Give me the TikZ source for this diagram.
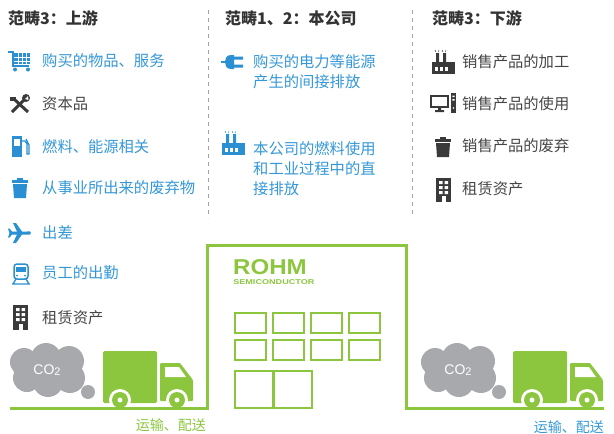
\documentclass[tikz,border=0pt]{standalone}
\usepackage{fontspec}
\setmainfont{Noto Sans CJK SC}
\newfontfamily\arialfont{Liberation Sans}
\usepackage{tikz}
\usetikzlibrary{positioning}

\definecolor{scopeblue}{HTML}{3497D7}
\definecolor{iconblue}{HTML}{2A8FD3}
\definecolor{textgray}{HTML}{454545}
\definecolor{headgray}{HTML}{333333}
\definecolor{icondark}{HTML}{3A3A3A}
\definecolor{rohmgreen}{HTML}{8CC63F}
\definecolor{cloudgray}{HTML}{A7A9AC}
\definecolor{dashgray}{HTML}{A0A0A0}

\tikzset{
  itemtext/.style={anchor=west, inner sep=0pt, font=\fontsize{15.3}{20}\selectfont},
  bluetext/.style={itemtext, text=scopeblue},
  graytext/.style={itemtext, text=textgray},
  multitext/.style={bluetext, align=left},
  headtext/.style={anchor=west, inner sep=0pt, font=\bfseries\fontsize{16}{18}\selectfont, text=headgray},
  divider/.style={dashgray, line width=0.8pt, dash pattern=on 4pt off 4pt},
  wall/.style={rohmgreen, line width=3pt},
  window/.style={rohmgreen, line width=2.6pt},
}

\begin{document}
\begin{tikzpicture}[x=1pt, y=-1pt]
  \useasboundingbox (0,0) rectangle (614,434);

  % column dividers
  \draw[divider] (208,10) -- (208,218);
  \draw[divider] (412,10) -- (412,215);

  % headers
  \node[headtext] (upHead) at (8,18) {范畴3：上游};
  \node[headtext] (ownHead) at (225,18) {范畴1、2：本公司};
  \node[headtext] (downHead) at (432,18) {范畴3：下游};

  % upstream list
  \node[bluetext] (upGoods) at (42,61) {购买的物品、服务};
  \node[graytext] (upCapital) at (42,104) {资本品};
  \node[bluetext] (upFuel) at (42,147) {燃料、能源相关};
  \node[bluetext] (upWaste) at (42,188) {从事业所出来的废弃物};
  \node[bluetext] (upTravel) at (42,233) {出差};
  \node[bluetext] (upCommute) at (42,273) {员工的出勤};
  \node[graytext] (upLease) at (42,318) {租赁资产};

  % own company
  \node[multitext] (ownPower) at (253,72) {购买的电力等能源\\产生的间接排放};
  \node[multitext] (ownFuel) at (253,169) {本公司的燃料使用\\和工业过程中的直\\接排放};

  % downstream list
  \node[graytext] (downProc) at (462,62) {销售产品的加工};
  \node[graytext] (downUse) at (462,104) {销售产品的使用};
  \node[graytext] (downWaste) at (462,146) {销售产品的废弃};
  \node[graytext] (downLease) at (462,189) {租赁资产};

  % cart
  \draw[iconblue, line width=1.6pt] (8,52) -- (13,52) -- (13,66) -- (29,66);
  \fill[iconblue] (14,53) rectangle (30,64);
  \foreach \gx in {18,22,26}
    \draw[white, line width=0.7pt] (\gx,53) -- (\gx,64);
  \foreach \gy in {57,61}
    \draw[white, line width=0.7pt] (14,\gy) -- (30,\gy);
  \fill[iconblue] (15,69.5) circle (2) (28,69.5) circle (2);

  % tools
  \draw[icondark, line width=3pt] (12,112) -- (26,98);
  \draw[icondark, line width=3pt] (14,99) -- (28,112);
  \fill[icondark] (26,98) circle (4);
  \fill[white] (28,96) -- (25,99) -- (28.5,100) -- cycle;
  \fill[icondark] (10,97) rectangle (16,101);

  % fuel pump
  \fill[iconblue] (12,136) rectangle (22,157);
  \fill[white] (14,139) rectangle (20,146);
  \draw[iconblue, line width=1.2pt] (22,141) -- (25,141) -- (27,144) -- (27,154)
    -- (29,154) -- (29,145) -- (26,139);

  % waste bin
  \fill[iconblue] (12,180) rectangle (28,182.5);
  \fill[iconblue] (17,178) rectangle (23,180);
  \fill[iconblue] (13,184) -- (27,184) -- (26,198) -- (14,198) -- cycle;

  % plane
  \fill[iconblue] (31,233) .. controls (30,231) .. (27,231.5) -- (22,231.5)
    -- (16,223) -- (13,223) -- (17,231.5) -- (12,231.5) -- (9.5,228.5) -- (8,228.5)
    -- (9.5,233) -- (8,237.5) -- (9.5,237.5) -- (12,234.5) -- (17,234.5)
    -- (13,243) -- (16,243) -- (22,234.5) -- (27,234.5) .. controls (30,235) .. (31,233) -- cycle;

  % train
  \draw[iconblue, line width=1.5pt, rounded corners=3pt] (14,264) rectangle (28,279);
  \fill[iconblue] (16,267) rectangle (26,272);
  \fill[iconblue] (17,275.5) circle (1) (25,275.5) circle (1);
  \draw[iconblue, line width=1.3pt] (16,279) -- (13,284) (26,279) -- (29,284) (12,284) -- (30,284);

  % leased building
  \fill[icondark] (13,305) rectangle (28,330);
  \foreach \wy in {308,313,318}
    \fill[white] (16,\wy) rectangle (19.5,\wy+3) (21.5,\wy+3) rectangle (25,\wy);
  \fill[white] (18.5,324) rectangle (22.5,330);

  % plug
  \draw[iconblue, line width=2pt] (221,62) -- (227,62);
  \fill[iconblue] (234,55) -- (234,69) -- (231,69) .. controls (226,69) and (225,65) .. (225,62)
    .. controls (225,59) and (226,55) .. (231,55) -- cycle;
  \fill[iconblue] (234,56.5) rectangle (243,59.5) (234,64.5) rectangle (243,67.5);

  % factory
  \fill[iconblue] (226,134) rectangle (229,144) (233,134) rectangle (236,144);
  \draw[iconblue, line width=0.5pt] (225,131) -- (226,133) (229,131) -- (228.5,133)
    (232,131) -- (233,133) (236,131) -- (235.5,133);
  \fill[iconblue] (222,155) -- (222,143) -- (245,143) -- (245,155) -- cycle;
  \foreach \fx in {225,230,235}
    \fill[white] (\fx,148) rectangle (\fx+3,152);

  % downstream factory
  \fill[icondark] (436,53) rectangle (439,63) (443,53) rectangle (446,63);
  \draw[icondark, line width=0.5pt] (435,50) -- (436,52) (439,50) -- (438.5,52)
    (442,50) -- (443,52) (446,50) -- (445.5,52);
  \fill[icondark] (432,74) -- (432,62) -- (455,62) -- (455,74) -- cycle;
  \foreach \fx in {435,440,445}
    \fill[white] (\fx,67) rectangle (\fx+3,71);

  % computer
  \draw[icondark, line width=1.5pt] (431,96) rectangle (448,107);
  \fill[icondark] (438,107) rectangle (441,110) (435,110) rectangle (444,112);
  \fill[icondark] (451,93) rectangle (456,113);
  \fill[white] (452.3,95.5) rectangle (454.7,97) (452.3,99) rectangle (454.7,100.5);
  \fill[white] (453.5,108) circle (0.8);

  % downstream waste bin
  \fill[icondark] (435,139) rectangle (451,141.5);
  \fill[icondark] (440,137) rectangle (446,139);
  \fill[icondark] (436,143) -- (450,143) -- (449,157) -- (437,157) -- cycle;

  % downstream leased building
  \fill[icondark] (436,178) rectangle (451,202);
  \foreach \wy in {181,186,191}
    \fill[white] (439,\wy) rectangle (442.5,\wy+3) (444.5,\wy+3) rectangle (448,\wy);
  \fill[white] (441.5,196) rectangle (445.5,202);

  % left cloud and truck
  \fill[cloudgray] (24,362) circle (14) (46,358) circle (15) (69,361) circle (15)
    (70,378) circle (15) (48,382) circle (15) (27,378) circle (14) (47,370) circle (18);
  \fill[cloudgray] (88,392) circle (7);
  \node[text=white, font=\arialfont\fontsize{14}{14}\selectfont, inner sep=0pt] (coLeft) at (47,370)
    {CO\raisebox{-1pt}{\fontsize{11}{11}\selectfont 2}};
  \fill[rohmgreen, rounded corners=1.5pt] (103,351) rectangle (157,403);
  \fill[rohmgreen, rounded corners=1pt] (160,363) -- (180,363) -- (193,380) -- (193,401)
    -- (160,401) -- cycle;
  \fill[white] (165,367) -- (179,367) -- (186,377) -- (165,377) -- cycle;
  \foreach \wx in {120,177} {
    \fill[white] (\wx,400) circle (11);
    \fill[rohmgreen] (\wx,400) circle (8);
    \fill[white] (\wx,400) circle (2.5);
  }

  % right cloud and truck
  \begin{scope}[shift={(411,0)}]
    \fill[cloudgray] (24,362) circle (14) (46,358) circle (15) (69,361) circle (15)
      (70,378) circle (15) (48,382) circle (15) (27,378) circle (14) (47,370) circle (18);
    \fill[cloudgray] (88,392) circle (7);
    \node[text=white, font=\arialfont\fontsize{14}{14}\selectfont, inner sep=0pt] (coRight) at (47,370)
      {CO\raisebox{-1pt}{\fontsize{11}{11}\selectfont 2}};
    \fill[rohmgreen, rounded corners=1.5pt] (102,351) rectangle (156,403);
    \fill[rohmgreen, rounded corners=1pt] (159,363) -- (179,363) -- (192,380) -- (192,401)
      -- (159,401) -- cycle;
    \fill[white] (164,367) -- (178,367) -- (185,377) -- (164,377) -- cycle;
    \foreach \wx in {121,176} {
      \fill[white] (\wx,400) circle (11);
      \fill[rohmgreen] (\wx,400) circle (8);
      \fill[white] (\wx,400) circle (2.5);
    }
  \end{scope}

  % plant outline and ground
  \draw[wall] (10,408) -- (207,408) -- (207,245) -- (406,245) -- (406,408) -- (604,408);

  % logo
  \node[anchor=west, inner sep=0pt, text=rohmgreen, font=\arialfont\bfseries\fontsize{21.5}{22}\selectfont,
    xscale=1.12] (logo) at (233,267) {ROHM};
  \node[anchor=west, inner sep=0pt, text=rohmgreen, font=\arialfont\bfseries\fontsize{7}{8}\selectfont,
    xscale=1.3] (logoSub) at (233,282) {SEMICONDUCTOR};

  % windows and door
  \foreach \wx in {235,273,311,349}
    \foreach \wy in {313,340}
      \draw[window] (\wx,\wy) rectangle (\wx+31,\wy+20);
  \draw[window] (235,371) rectangle (312,408);
  \draw[window] (273.5,371) -- (273.5,408);

  % transport labels
  \node[anchor=east, inner sep=0pt, text=rohmgreen, font=\fontsize{14}{14}\selectfont] (shipLeft) at (206,425) {运输、配送};
  \node[anchor=east, inner sep=0pt, text=scopeblue, font=\fontsize{14}{14}\selectfont] (shipRight) at (604,427) {运输、配送};
\end{tikzpicture}
\end{document}
